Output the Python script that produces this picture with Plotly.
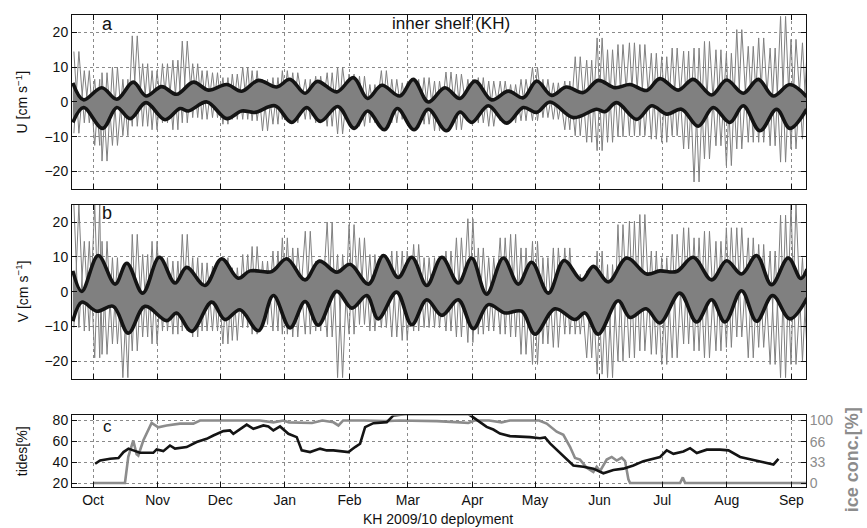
import pandas as pd
import plotly.graph_objects as go

# ---------------------------------------------------------------- time base
START = pd.Timestamp("2009-10-01")


def to_date(days):
    return [START + pd.Timedelta(days=float(d)) for d in days]


X_RANGE_DAYS = [-10.1, 342.0]

# ------------------------------------------------ panel a: U current (cm/s)
# gray record: extreme values per ~5-day window (day, max, min)
u_days = [-8, -3, 2, 5.5, 10.5, 15.5, 20, 25, 29.5, 34.5, 39.5, 44, 49, 53.5, 58.5,
          63.5, 68, 73, 77.5, 82.5, 87.5, 92, 97, 103, 108, 113.5, 118.5, 124, 129,
          134, 139.5, 144.5, 149.5, 155, 160, 165, 170.5, 175.5, 181, 186, 191, 196.5,
          201.5, 206.5, 212, 217, 222, 227.5, 232.5, 238, 243, 248, 253, 258.5, 263.5,
          269, 274, 279, 284.5, 289.5, 294.5, 300, 305, 310, 315.5, 320.5, 326, 331,
          336, 341.5]
u_max = [14.5, 9, 6.5, 8.4, 10, 6.5, 19, 11, 9, 11, 12, 17.5, 11, 9, 8.4, 7, 8, 10, 9,
         6.5, 7, 9, 8.4, 6.5, 7.4, 8.4, 10, 8, 7.4, 5, 9, 6.5, 5.5, 6.5, 7, 6, 8.6, 8,
         6.5, 7, 6, 6, 5, 6.5, 10, 6.5, 5.5, 6, 13, 12, 18.4, 15, 16.5, 17, 16.5, 14,
         13, 15.5, 14.6, 15.5, 17.4, 15, 14, 20.8, 16, 18.4, 15.5, 24.6, 18, 17]
u_min = [-9, -6, -12.5, -17, -12.5, -9.7, -7, -7, -8, -6, -8, -6, -4.5, -5, -4.5, -6.4,
         -5, -5, -5.4, -8.3, -6.4, -5, -6, -5, -6, -7, -9.2, -5.4, -7, -6, -7.3, -6, -5,
         -7.3, -6.4, -8.3, -7, -8, -5.4, -6, -7, -5.4, -6, -5.4, -5.4, -4.5, -5, -8,
         -9.7, -11.6, -14, -11.6, -10, -9.7, -9.7, -10.7, -11.6, -9.7, -13.5, -23,
         -16.4, -12.6, -18.3, -13.5, -11.6, -11.6, -12.6, -17.3, -13.5, -10.7]

# tidal envelope (upper / lower)
u_hi_days = [-9.7, -4.6, 4.2, 11.4, 19.3, 25.4, 32.9, 40.1, 48.1, 55.3, 64.1, 71.3, 79.3,
             88.1, 94.5, 101.7, 107.5, 116.9, 124.9, 131.7, 138.5, 147.2, 153.6, 160.8,
             168.8, 176.0, 183.2, 191.2, 199.2, 206.4, 212.8, 220.0, 227.0, 235.2, 242.3,
             250.4, 257.6, 265.6, 271.9, 280.7, 287.9, 296.7, 303.9, 311.9, 319.1, 326.3,
             334.3, 342.3]
u_hi = [5.5, 0.6, 4.1, 0.8, 5.7, 1.7, 4.4, 2.2, 5.7, 3.4, 5.0, 3.1, 6.2, 4.3, 6.5, 2.5,
        5.9, 2.9, 7.0, 1.0, 4.8, 1.7, 6.5, 0.0, 4.1, 1.0, 6.0, 0.6, 3.1, 1.2, 6.0, 1.9,
        4.3, 2.7, 6.2, 4.1, 5.0, 3.3, 6.7, 3.4, 6.5, 2.0, 6.3, 2.5, 6.5, 1.7, 5.0, 1.5]
u_lo_days = [-9.7, -4.6, 4.6, 11.4, 17.8, 25.4, 34.5, 41.7, 45.7, 54.6, 64.1, 71.3, 77.7,
             87.3, 95.3, 102.5, 109.0, 117.4, 125.3, 131.7, 139.7, 146.0, 154.0, 160.8,
             169.5, 176.0, 181.6, 189.6, 198.4, 206.4, 212.8, 219.2, 230.4, 241.6, 245.5,
             251.2, 260.8, 268.0, 275.2, 282.3, 290.3, 297.5, 305.5, 311.9, 319.9, 327.9,
             334.3, 342.3]
u_lo = [-5.9, -1.6, -7.6, -1.6, -4.8, -0.2, -5.1, -1.9, -2.6, 0.0, -4.8, -2.6, -3.0, -1.1,
        -5.9, -1.6, -5.6, -1.3, -7.6, -2.6, -8.0, -1.9, -8.0, -2.1, -8.3, -2.9, -5.9, -1.1,
        -6.1, -1.6, -3.0, 0.0, -4.5, -2.1, -2.8, -0.2, -5.0, -1.1, -3.5, -2.1, -7.0, -1.6,
        -5.9, -1.1, -8.3, -2.1, -7.6, -2.1]

# ------------------------------------------------ panel b: V current (cm/s)
v_days = u_days
v_max = [25, 14.5, 25, 14.5, 9.8, 7, 16.5, 10.7, 14.5, 9.8, 8.8, 16.5, 9.8, 8.3, 7.4,
         9.8, 6.9, 10.7, 13, 8.8, 11.7, 15.5, 12.6,
         17.4, 8.8, 20, 10.7, 19.3, 15.5, 10.7, 9.8, 11.7, 11.7, 13.6, 9.8, 9.8, 11.7,
         15.5, 21, 12.6, 9.8, 15.5, 16.5, 12.6, 14.5, 9.8, 12.6, 12.6, 5, 6, 11.7, 7.8,
         19.3, 20.3, 22.2, 11.7, 9.8, 16.5, 18.4, 15.5, 17.4, 14.5, 18.4, 18.4, 15.5,
         13.6, 11.7, 22, 25, 9.8]
v_min = [-10.3, -11.3, -19, -18, -15, -24.7, -17, -13, -15, -11.3, -12.2, -11.3, -13,
         -11.3, -11.3, -15, -14, -10.3, -12.2, -9.4, -11.3, -12.2, -13,
         -12.2, -11.3, -13, -24.7, -12.2, -9.4, -11.3, -10.3, -13, -14, -11.3, -10.3,
         -10.3, -11.3, -13, -14.6, -12.2, -11.3, -12.2, -13, -18, -20.9, -15, -16, -12.2,
         -12.2, -19, -23.7, -24.7, -20, -19, -17, -18, -20.9, -19, -15, -17, -19, -17,
         -16, -13, -19, -16, -20.9, -24.7, -20.9, -20]

v_hi_days = [-9.7, -5.4, 2.5, 10.6, 16.2, 23.8, 31.8, 39.3, 44.9, 53.7, 61.7, 69.6, 75.3,
             85.7, 92.9, 101.7, 108.5, 116.9, 123.3, 132.1, 139.3, 146.4, 152.9, 160.1,
             167.3, 175.2, 181.6, 188.8, 196.8, 204.0, 210.4, 218.4, 226.0, 234.4, 240.0,
             247.2, 256.0, 265.6, 271.9, 279.9, 287.9, 296.7, 303.9, 311.1, 318.3, 325.5,
             333.5, 339.5, 342.5]
v_hi = [6.0, 0.1, 10.4, 2.2, 8.2, -0.4, 9.9, 2.5, 7.0, 1.8, 9.5, 3.9, 6.0, 5.8, 9.5, 3.4,
        8.8, 5.6, 7.9, 2.2, 10.4, 4.1, 9.9, 1.8, 9.9, 2.5, 9.7, -0.7, 9.7, 2.2, 8.5, -0.4,
        9.0, 3.4, 7.3, 2.8, 9.7, 5.1, 6.0, 5.8, 9.9, 3.4, 8.9, 5.1, 10.4, 2.0, 9.7, 3.8,
        6.5]
v_lo_days = [-9.7, -5.4, 1.8, 9.7, 16.9, 24.9, 35.3, 40.1, 47.3, 56.9, 63.3, 70.5, 79.3,
             86.5, 94.5, 101.7, 108.0, 116.9, 124.1, 131.3, 136.8, 145.6, 152.9, 160.1,
             167.3, 175.2, 182.4, 189.6, 197.6, 205.6, 212.0, 221.6, 231.2, 236.0, 242.3,
             251.9, 257.6, 265.3, 271.9, 281.5, 289.5, 296.7, 303.1, 311.1, 318.3, 326.0,
             334.3, 342.5]
v_lo = [-8.5, -3.0, -5.6, -4.2, -11.9, -4.2, -8.3, -6.1, -11.4, -3.0, -8.0, -5.2, -11.2,
        -1.1, -10.4, -2.8, -9.6, 0.1, -4.7, -1.1, -7.8, -0.1, -9.5, -2.3, -6.8, -2.3,
        -10.6, -3.7, -6.1, -5.6, -12.2, -4.9, -8.0, -6.1, -12.2, -2.6, -7.4, -4.9, -9.0,
        -0.4, -8.7, -2.3, -8.7, 0.3, -8.5, -1.1, -7.8, -1.8]

# ------------------------------------------- panel c: tides and ice cover (%)
tide_days = [1, 3.4, 8.2, 12.2, 14.6, 17, 19.3, 22.5, 28.9, 30.5, 33.7, 36.9, 39.3, 44.9,
             49.7, 54.5, 57.7, 62.5, 65.7, 67.3, 73.7, 76.9, 81.7, 84.1, 86.5, 89.7, 93.7,
             97.7, 100.1, 104.1, 108.9, 112.1, 115.3, 118.5, 122.5, 125.7, 128.1, 130.5,
             134.5, 140.9, 144.1, 150, 160, 170, 180, 182.4, 185.6, 188.8, 192, 195.2, 200,
             204.8, 209.6, 214.4, 216.8, 219.2, 221.6, 225.6, 230.4, 235.2, 240, 244.8,
             249.6, 254.4, 259.2, 264, 268.8, 272, 275.2, 278.4, 283.2, 286.4, 289.6, 294.4,
             300.8, 304.8, 310.4, 315.2, 321.6, 326.4, 328.8]
tide_pct = [38.5, 41.7, 43.3, 44, 49.7, 53, 51.3, 49, 49, 52.2, 50.6, 56, 53, 54.5, 59.3,
            62.4, 65.6, 69.8, 70.4, 67.2, 76, 72, 75.2, 74.3, 70.4, 74.3, 67.2, 64, 51.3,
            49.7, 53, 51.3, 51.3, 50.6, 49.7, 54.5, 57.7, 73.6, 77.4, 78.4, 84.8, 86, 86,
            86, 86, 83, 78, 73.8, 71.3, 67.5, 65, 64.7, 64, 63, 63.8, 58, 53.4, 45.6, 36.9,
            35.6, 33.8, 29.4, 32.5, 33.8, 36.9, 41, 43.1, 45, 51.3, 48, 50.3, 53.4, 48.8,
            52, 52, 51.3, 45, 43.1, 40, 37.8, 43.1]

ice_days = [0, 15.3, 16.9, 19.3, 20.9, 21.7, 24.1, 28.1, 31.3, 35.3, 41.7, 48.1, 51.3, 60,
            70, 80, 86.5, 91.3, 94, 99.3, 105, 110, 115.3, 117.7, 120, 130, 140, 147, 155,
            165, 176, 180, 183, 190, 196, 200, 205, 210, 214, 217.6, 222.4, 225.6, 228.8,
            231.2, 233.6, 236.8, 240, 241.6, 243.2, 246.4, 248.8, 251.2, 253.6, 255.2,
            256.8, 257.6, 281.6, 282.9, 284, 343]
ice_pct = [0, 0, 42, 68, 46, 44, 68, 96, 89, 92, 95, 95, 100, 100, 99, 100, 97, 100, 97,
           97, 96, 100, 97, 92, 100, 100, 99, 100, 100, 99, 97, 96, 100, 100, 97, 100, 100,
           100, 100, 95, 82, 77, 58, 40, 37.5, 24.5, 17.7, 26, 19, 37.5, 41.7, 36, 40.6,
           35, 6, 0, 0, 9, 0, 0]

# ------------------------------------------------------------------- styling
FONT = "Liberation Sans, Arial, Helvetica, sans-serif"
GRAY = "#808080"
ICE_GRAY = "#8c8c8c"
BLACK = "#141414"
GRID = "#8a8a8a"

W, H = 867, 528
L, R, T, B = 72, 806, 12, 487


def px_x(x):
    return (x - L) / (R - L)


def px_y(y):
    return (B - y) / (B - T)


def zigzag(days, first, second, half=1.2):
    # each window is drawn as a stroke from one extreme to the other
    xs, ys = [], []
    for d, a, b in zip(days, first, second):
        xs += [d - half, d + half]
        ys += [a, b]
    return to_date(xs), ys


fig = go.Figure()


def current_panel(xa, ya, days, vmax, vmin, hd, hv, ld, lv):
    # dense tidal core between the envelopes
    fig.add_trace(go.Scatter(x=to_date(ld), y=lv, mode="lines", xaxis=xa, yaxis=ya,
                             line=dict(width=0, color=GRAY, shape="spline"),
                             hoverinfo="skip", showlegend=False))
    fig.add_trace(go.Scatter(x=to_date(hd), y=hv, mode="lines", xaxis=xa, yaxis=ya,
                             line=dict(width=0, color=GRAY, shape="spline"),
                             fill="tonexty", fillcolor=GRAY,
                             hoverinfo="skip", showlegend=False))
    # record: max->min and min->max strokes through every window
    for a, b in ((vmax, vmin), (vmin, vmax)):
        zx, zy = zigzag(days, a, b)
        fig.add_trace(go.Scatter(x=zx, y=zy, mode="lines", xaxis=xa, yaxis=ya,
                                 line=dict(width=1.0, color=GRAY),
                                 showlegend=False))
    for d, v in ((hd, hv), (ld, lv)):
        fig.add_trace(go.Scatter(x=to_date(d), y=v, mode="lines", xaxis=xa, yaxis=ya,
                                 line=dict(width=3.6, color=BLACK, shape="spline",
                                           smoothing=1.0),
                                 showlegend=False))


current_panel("x", "y", u_days, u_max, u_min, u_hi_days, u_hi, u_lo_days, u_lo)
current_panel("x2", "y2", v_days, v_max, v_min, v_hi_days, v_hi, v_lo_days, v_lo)

# panel c: ice concentration (right axis) under tides (left axis)
fig.add_trace(go.Scatter(x=to_date(ice_days), y=ice_pct, mode="lines",
                         xaxis="x3", yaxis="y3",
                         line=dict(width=2.6, color=ICE_GRAY), showlegend=False))
fig.add_trace(go.Scatter(x=to_date(tide_days), y=tide_pct, mode="lines",
                         xaxis="x3", yaxis="y4",
                         line=dict(width=2.6, color=BLACK), showlegend=False))

xr = to_date(X_RANGE_DAYS)
tickfont = dict(family=FONT, size=14, color="#111")

xcommon = dict(type="date", range=xr, dtick="M1", tick0="2009-10-01",
               ticks="inside", ticklen=5, tickcolor="#111", mirror="ticks",
               showline=True, linecolor="#111", linewidth=1,
               showgrid=True, gridcolor=GRID, griddash="dot", gridwidth=1,
               zeroline=False, domain=[0, 1])
ycommon = dict(range=[-25, 25], tickvals=[-20, -10, 0, 10, 20],
               ticktext=["\u221220", "\u221210", "0", "10", "20"],
               ticks="inside", ticklen=5, tickcolor="#111", mirror="ticks",
               showline=True, linecolor="#111", linewidth=1,
               showgrid=True, gridcolor=GRID, griddash="dot", gridwidth=1,
               zeroline=False, tickfont=tickfont)

top_a, bot_a = px_y(12), px_y(187)
top_b, bot_b = px_y(203), px_y(378)
top_c, bot_c = px_y(415), px_y(487)

fig.update_layout(
    width=W, height=H,
    margin=dict(l=L, r=W - R, t=T, b=H - B),
    paper_bgcolor="white", plot_bgcolor="white",
    font=dict(family=FONT, size=14, color="#111"),
    showlegend=False,
    xaxis=dict(xcommon, anchor="y", showticklabels=False),
    yaxis=dict(ycommon, domain=[bot_a, top_a], anchor="x"),
    xaxis2=dict(xcommon, anchor="y2", showticklabels=False),
    yaxis2=dict(ycommon, domain=[bot_b, top_b], anchor="x2"),
    xaxis3=dict(xcommon, anchor="y3", showticklabels=True, tickformat="%b",
                tickfont=tickfont),
    yaxis3=dict(domain=[bot_c, top_c], anchor="x3", side="right",
                range=[-6.33, 108.0], tickvals=[0, 33, 66, 100],
                ticks="inside", ticklen=5, tickcolor="#111",
                showline=True, linecolor="#111", linewidth=1,
                showgrid=True, gridcolor=GRID, griddash="dot", gridwidth=1,
                zeroline=False,
                tickfont=dict(family=FONT, size=14, color="#8c8c8c")),
    yaxis4=dict(overlaying="y3", anchor="x3", side="left",
                range=[16.2, 84.8], tickvals=[20, 40, 60, 80],
                ticks="inside", ticklen=5, tickcolor="#111",
                showline=True, linecolor="#111", linewidth=1,
                showgrid=False, zeroline=False, tickfont=tickfont),
)

annotations = [
    dict(text="a", x=px_x(107), y=px_y(21), size=18),
    dict(text="inner shelf (KH)", x=px_x(451), y=px_y(21), size=17),
    dict(text="b", x=px_x(107), y=px_y(211), size=18),
    dict(text="c", x=px_x(107), y=px_y(426), size=17),
    dict(text="U [cm s<sup>\u22121</sup>]", x=px_x(22), y=px_y(99), size=14, angle=-90),
    dict(text="V [cm s<sup>\u22121</sup>]", x=px_x(22), y=px_y(290), size=14, angle=-90),
    dict(text="tides[%]", x=px_x(22), y=px_y(451), size=14, angle=-90),
    dict(text="<b>ice conc.[%]</b>", x=px_x(852), y=px_y(460), size=18, angle=-90,
         color="#8c8c8c"),
    dict(text="KH 2009/10 deployment", x=px_x(438), y=px_y(519), size=14),
]
for a in annotations:
    fig.add_annotation(text=a["text"], x=a["x"], y=a["y"], xref="paper", yref="paper",
                       xanchor="center", yanchor="middle", showarrow=False,
                       textangle=a.get("angle", 0),
                       font=dict(family=FONT, size=a["size"],
                                 color=a.get("color", "#111")))

fig.write_html("out.html")
